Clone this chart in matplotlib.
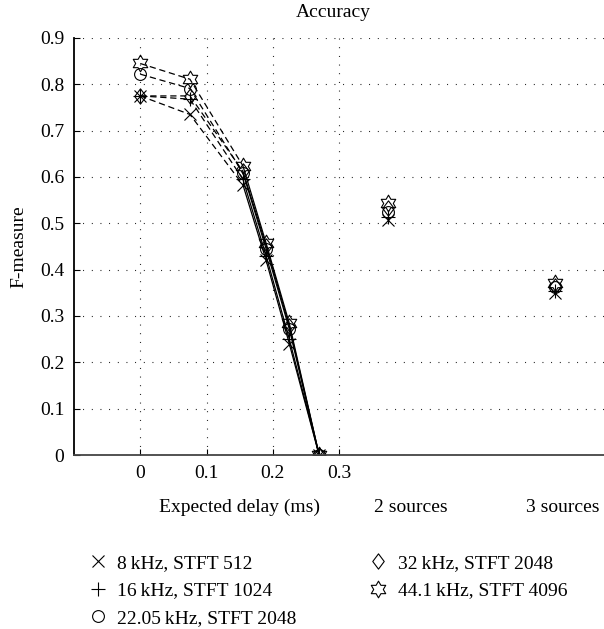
import numpy as np
import matplotlib
matplotlib.use("Agg")
import matplotlib.pyplot as plt
from matplotlib.lines import Line2D
from matplotlib.path import Path

plt.rcParams['font.family'] = ['Liberation Serif', 'DejaVu Serif']
FS = 14

### data ###

delays = [0, 0.075, 0.155, 0.19, 0.225, 0.27]
labels = ['8\u2009kHz, STFT 512', '16\u2009kHz, STFT 1024', '22.05\u2009kHz, STFT 2048',
          '32\u2009kHz, STFT 2048', '44.1\u2009kHz, STFT 4096']
f_8k = [0.775, 0.735, 0.583, 0.420, 0.240, 0.0]
f_16k = [0.775, 0.768, 0.595, 0.430, 0.250, 0.0]
f_22k = [0.822, 0.791, 0.609, 0.445, 0.272, 0.0]
f_32k = [0.775, 0.775, 0.612, 0.452, 0.278, 0.0]
f_44k = [0.845, 0.811, 0.624, 0.457, 0.284, 0.0]
two_sources = [0.507, 0.513, 0.525, 0.533, 0.543]
three_sources = [0.350, 0.355, 0.362, 0.365, 0.372]
src_x = [0.374, 0.626]
src_label_x = [0.409, 0.638]
src_labels = ['2 sources', '3 sources']

# six pointed star marker
ang = np.pi / 2 + np.arange(12) * np.pi / 6
rad = np.where(np.arange(12) % 2 == 0, 1.0, 1 / np.sqrt(3))
star_verts = np.column_stack([rad * np.cos(ang), rad * np.sin(ang)])
star = Path(np.vstack([star_verts, star_verts[:1]]), closed=True)
# diamond, a bit narrower than tall
diamond = Path([(0, 1), (0.75, 0), (0, -1), (-0.75, 0), (0, 1)], closed=True)

markers = ['x', '+', 'o', diamond, star]
msizes = [8, 10, 8.5, 11, 12]
series = [f_8k, f_16k, f_22k, f_32k, f_44k]

fig = plt.figure(figsize=(6.04, 6.29), dpi=100)
ax = fig.add_axes([74 / 604, 1 - 455 / 629, 1 - 74 / 604, (455 - 38) / 629])

for vals, m, ms in zip(series, markers, msizes):
    ax.plot(delays[:3], vals[:3], color='k', lw=0.9, ls=(0, (5, 3)))
    ax.plot(delays[2:], vals[2:], color='k', lw=0.9, ls='-')
    ax.plot(delays, vals, ls='none', marker=m, ms=ms, mfc='none', mec='k', mew=0.8)

for i, (m, ms) in enumerate(zip(markers, msizes)):
    ax.plot([src_x[0]], [two_sources[i]], ls='none', marker=m, ms=ms, mfc='none', mec='k', mew=0.8)
    ax.plot([src_x[1]], [three_sources[i]], ls='none', marker=m, ms=ms, mfc='none', mec='k', mew=0.8)

ax.set_xlim(-0.1, 0.7)
ax.set_ylim(0, 0.9)
ax.set_xticks([0, 0.1, 0.2, 0.3])
ax.set_xticklabels(['0', '0.1', '0.2', '0.3'])
ax.set_yticks(np.arange(0, 0.91, 0.1))
ax.set_yticklabels(['0'] + ['%.1f' % v for v in np.arange(0.1, 0.91, 0.1)])
ax.tick_params(direction='in', length=4, width=0.8, labelsize=FS, pad=7)
ax.grid(True, color='k', lw=0.8, ls=(0, (0.8, 7)))
for s in ['top', 'right']:
    ax.spines[s].set_visible(False)
ax.spines['left'].set_linewidth(1.3)
ax.spines['bottom'].set_linewidth(1.3)
ax.spines['bottom'].set_color('#444444')

ax.set_ylabel('F-measure', fontsize=FS, labelpad=9)
ax.set_title('Accuracy', fontsize=FS, pad=15, x=0.49)
ax.text(0.15, -0.125, 'Expected delay (ms)', ha='center', va='center', fontsize=FS,
        transform=ax.get_xaxis_transform())
for xx, lab in zip(src_label_x, src_labels):
    ax.text(xx, -0.125, lab, ha='center', va='center', fontsize=FS,
            transform=ax.get_xaxis_transform())

handles = [Line2D([], [], ls='none', marker=m, ms=ms, mfc='none', mec='k', mew=0.8)
           for m, ms in zip(markers, msizes)]
fig.legend(handles, labels, ncol=2, frameon=False, loc='upper left',
           bbox_to_anchor=(0.146, 0.119), fontsize=FS, handlelength=1.0,
           handletextpad=0.5, columnspacing=3.7, labelspacing=0.52, borderpad=0,
           borderaxespad=0)

fig.savefig('out.png', dpi=100)
